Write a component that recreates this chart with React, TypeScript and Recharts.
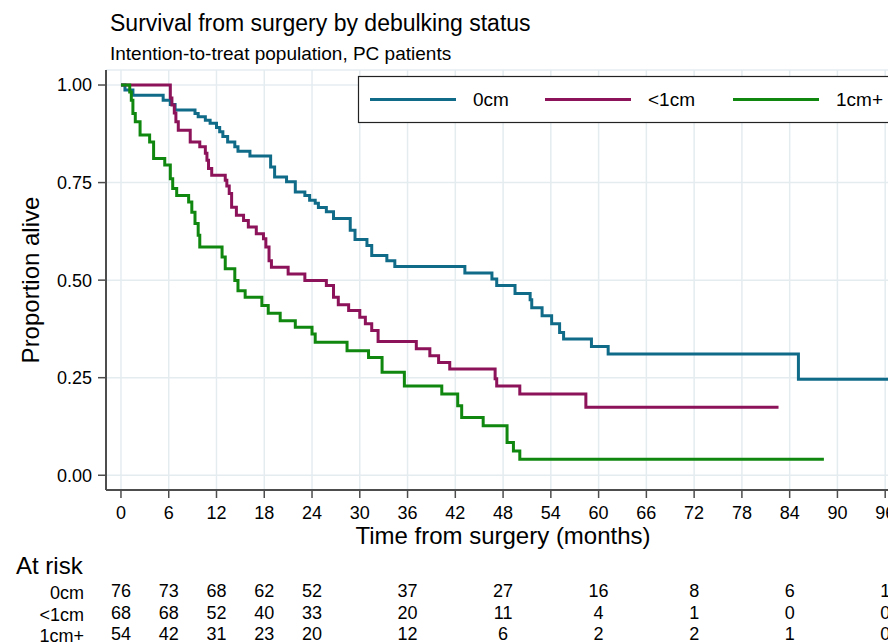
import React from 'react'
import { CartesianGrid, Line, LineChart, XAxis, YAxis } from 'recharts'

const FONT = '"Liberation Sans", Arial, Helvetica, sans-serif'

// axis ticks
const TIME_TICKS = [0, 6, 12, 18, 24, 30, 36, 42, 48, 54, 60, 66, 72, 78, 84, 90, 96]
const SURVIVAL_TICKS = [0, 0.25, 0.5, 0.75, 1]

// Kaplan-Meier steps (time in months, proportion alive)
const zeroTimes = [
  0, 0.5, 1.5, 5.3, 6.2, 6.8, 9.3, 9.7, 10.6, 11.2, 12.0, 12.4, 12.8, 13.4, 14.3, 14.7, 16.2, 18.8, 19.3, 20.8, 21.9,
  23.1, 23.7, 24.4, 24.8, 25.8, 26.7, 28.8, 29.4, 30.9, 31.5, 33.4, 34.4, 43.2, 46.6, 47.2, 49.5, 51.4, 51.6, 52.9,
  54.1, 55.1, 55.6, 59.1, 61.2, 85.1, 97.5,
]
const zeroSurvival = [
  1, 0.987, 0.974, 0.961, 0.95, 0.936, 0.927, 0.919, 0.91, 0.902, 0.891, 0.88, 0.868, 0.854, 0.842, 0.83, 0.818, 0.79,
  0.764, 0.752, 0.726, 0.717, 0.705, 0.697, 0.686, 0.675, 0.658, 0.628, 0.604, 0.589, 0.563, 0.55, 0.535, 0.518, 0.503,
  0.486, 0.466, 0.45, 0.429, 0.409, 0.388, 0.366, 0.349, 0.33, 0.311, 0.246, 0.246,
]

const underOneTimes = [
  0, 6.2, 6.4, 6.7, 6.9, 7.2, 8.7, 9.9, 10.6, 10.8, 11.0, 11.4, 13.1, 13.3, 13.6, 13.9, 14.5, 15.4, 16.0, 17.0, 17.9,
  18.2, 18.6, 18.9, 21.0, 23.1, 25.8, 26.7, 27.3, 28.6, 30.0, 30.7, 31.5, 32.3, 37.1, 38.8, 39.9, 41.3, 47.0, 47.2,
  50.1, 58.4, 82.6,
]
const underOneSurvival = [
  1, 0.967, 0.949, 0.928, 0.906, 0.884, 0.854, 0.842, 0.825, 0.807, 0.786, 0.769, 0.756, 0.741, 0.722, 0.687, 0.666,
  0.653, 0.636, 0.619, 0.606, 0.585, 0.55, 0.533, 0.516, 0.499, 0.486, 0.456, 0.437, 0.422, 0.405, 0.388, 0.371, 0.343,
  0.324, 0.306, 0.289, 0.272, 0.247, 0.229, 0.208, 0.174, 0.174,
]

const overOneTimes = [
  0, 1.1, 1.3, 1.5, 1.8, 2.4, 3.6, 4.1, 5.5, 6.2, 6.5, 7.0, 8.5, 8.9, 9.3, 9.7, 9.9, 12.7, 13.1, 14.3, 14.7, 15.6,
  17.7, 18.5, 20.0, 21.9, 24.0, 24.4, 28.4, 31.1, 32.8, 35.6, 40.3, 42.3, 42.8, 45.5, 48.5, 49.3, 50.1, 88.3,
]
const overOneSurvival = [
  1, 0.982, 0.961, 0.927, 0.906, 0.872, 0.854, 0.812, 0.795, 0.76, 0.735, 0.717, 0.7, 0.674, 0.645, 0.615, 0.585,
  0.559, 0.529, 0.499, 0.473, 0.456, 0.435, 0.415, 0.396, 0.379, 0.362, 0.341, 0.319, 0.302, 0.264, 0.229, 0.208,
  0.178, 0.148, 0.127, 0.084, 0.062, 0.041, 0.041,
]

// numbers at risk
const RISK_TIMES = [0, 6, 12, 18, 24, 36, 48, 60, 72, 84, 96]
const riskZero = [76, 73, 68, 62, 52, 37, 27, 16, 8, 6, 1]
const riskUnderOne = [68, 68, 52, 40, 33, 20, 11, 4, 1, 0, 0]
const riskOverOne = [54, 42, 31, 23, 20, 12, 6, 2, 2, 1, 0]

const toSteps = (times: number[], survival: number[]) => times.map((t, i) => ({ t, s: survival[i] }))
const toRiskRow = (counts: number[]) => RISK_TIMES.map((t, i) => ({ t, n: counts[i] }))

const GROUPS = [
  { id: 'r0', name: '0cm', color: '#106b89', data: toSteps(zeroTimes, zeroSurvival), atRisk: riskZero },
  { id: 'r1', name: '<1cm', color: '#8c1259', data: toSteps(underOneTimes, underOneSurvival), atRisk: riskUnderOne },
  { id: 'r2', name: '1cm+', color: '#10880f', data: toSteps(overOneTimes, overOneSurvival), atRisk: riskOverOne },
]

const X_DOMAIN: [number, number] = [-1.88, 97.86]
const Y_DOMAIN: [number, number] = [-0.0378, 1.0385]
const AXIS = '#4d4d4d'
const GRID = '#e4ecf0'

const LEGEND_ITEMS = [
  { x: 370, textX: 473 },
  { x: 545, textX: 648 },
  { x: 733, textX: 836 },
]

export default function App() {
  return (
    <div
      style={{
        position: 'fixed',
        left: 0,
        top: 0,
        width: 888,
        height: 643,
        overflow: 'hidden',
        background: '#fff',
        fontFamily: FONT,
      }}
    >
      <LineChart width={910} height={647} margin={{ top: 70, right: 10, bottom: 0.5, left: 0 }}>
        <CartesianGrid stroke={GRID} strokeWidth={1.5} />
        <XAxis
          type="number"
          dataKey="t"
          domain={X_DOMAIN}
          allowDataOverflow
          ticks={TIME_TICKS}
          interval={0}
          height={92}
          tickSize={8}
          tickMargin={8}
          axisLine={{ stroke: AXIS, strokeWidth: 2 }}
          tickLine={{ stroke: AXIS, strokeWidth: 1.5 }}
          tick={{ fill: '#000', fontSize: 18, fontFamily: FONT }}
          label={{
            value: 'Time from surgery (months)',
            position: 'insideTop',
            offset: 37,
            fill: '#000',
            fontSize: 24,
            fontFamily: FONT,
          }}
        />
        {GROUPS.map((g) => (
          <XAxis
            key={g.id}
            xAxisId={g.id}
            type="number"
            dataKey="t"
            domain={X_DOMAIN}
            allowDataOverflow
            ticks={RISK_TIMES}
            interval={0}
            height={21.5}
            axisLine={false}
            tickLine={false}
            tickSize={0}
            tickMargin={2.5}
            tick={{ fill: '#000', fontSize: 18, fontFamily: FONT }}
            tickFormatter={(v: number, i: number) => {
              const k = RISK_TIMES.indexOf(v)
              return String(g.atRisk[k >= 0 ? k : i] ?? '')
            }}
            label={{ value: g.name, position: 'left', offset: 22, fill: '#000', fontSize: 18, fontFamily: FONT }}
          />
        ))}
        <YAxis
          type="number"
          domain={Y_DOMAIN}
          allowDataOverflow
          ticks={SURVIVAL_TICKS}
          interval={0}
          width={106}
          tickSize={8}
          tickMargin={6}
          axisLine={{ stroke: AXIS, strokeWidth: 2 }}
          tickLine={{ stroke: AXIS, strokeWidth: 1.5 }}
          tick={{ fill: '#000', fontSize: 18, fontFamily: FONT }}
          tickFormatter={(v: number) => v.toFixed(2)}
          label={{
            value: 'Proportion alive',
            angle: -90,
            position: 'insideLeft',
            offset: 30,
            fill: '#000',
            fontSize: 24,
            fontFamily: FONT,
            style: { textAnchor: 'middle' },
          }}
        />
        {/* invisible series so each at-risk row axis has data behind its scale */}
        {GROUPS.map((g) => (
          <Line
            key={`risk-${g.id}`}
            xAxisId={g.id}
            data={toRiskRow(g.atRisk)}
            dataKey="n"
            stroke="none"
            dot={false}
            activeDot={false}
            legendType="none"
            isAnimationActive={false}
          />
        ))}
        {GROUPS.map((g) => (
          <Line
            key={g.id}
            data={g.data}
            dataKey="s"
            name={g.name}
            type="stepAfter"
            stroke={g.color}
            strokeWidth={3}
            dot={false}
            activeDot={false}
            isAnimationActive={false}
          />
        ))}
      </LineChart>

      <svg width={888} height={643} style={{ position: 'absolute', left: 0, top: 0, pointerEvents: 'none' }}>
        <text x={110} y={30.5} fontSize={23} fontFamily={FONT} fill="#000">
          Survival from surgery by debulking status
        </text>
        <text x={110} y={59.5} fontSize={19} fontFamily={FONT} fill="#000">
          Intention-to-treat population, PC patients
        </text>
        <text x={16} y={574} fontSize={24} fontFamily={FONT} fill="#000">
          At risk
        </text>
        <rect x={358.5} y={76.5} width={560} height={46} fill="#fff" stroke="#222" strokeWidth={1.2} />
        {GROUPS.map((g, i) => (
          <g key={g.id}>
            <line
              x1={LEGEND_ITEMS[i].x}
              x2={LEGEND_ITEMS[i].x + 86}
              y1={99.5}
              y2={99.5}
              stroke={g.color}
              strokeWidth={3}
            />
            <text x={LEGEND_ITEMS[i].textX} y={106} fontSize={19} fontFamily={FONT} fill="#000">
              {g.name}
            </text>
          </g>
        ))}
      </svg>
    </div>
  )
}
